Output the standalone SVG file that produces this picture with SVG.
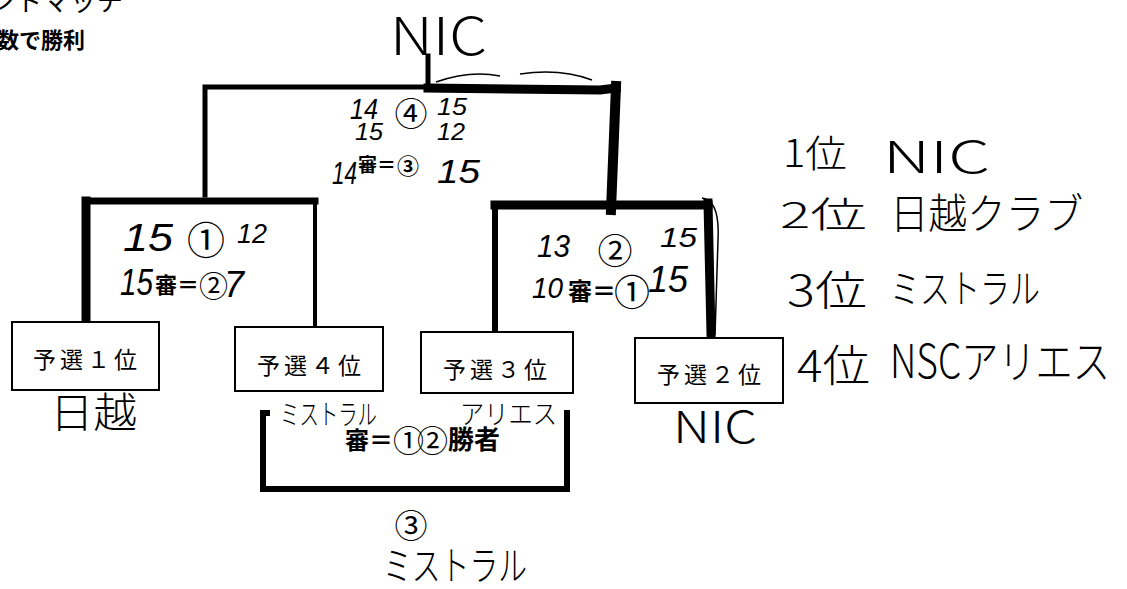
<svg xmlns="http://www.w3.org/2000/svg" width="1127" height="589" viewBox="0 0 1127 589">
<style>
  .ln { stroke:#000; fill:none; stroke-linecap:square; stroke-linejoin:miter; }
  .thin { stroke:#000; fill:none; stroke-width:1.5; }
  .box { fill:#fff; stroke:#000; stroke-width:2; }
  .print { font-family:"Noto Sans CJK JP","Noto Sans",sans-serif; fill:#000; }
  .circ { font-family:"Noto Sans CJK JP","Noto Sans",sans-serif; text-anchor:middle; fill:#000; }
  .boxt { font-family:"Noto Sans CJK JP","Noto Sans",sans-serif; font-size:23px; letter-spacing:4px; text-anchor:middle; fill:#000; }
  .hand { font-family:"Noto Sans CJK JP","Noto Sans",sans-serif; font-weight:300; fill:#000; }
  .num { font-family:"Liberation Sans","Noto Sans",sans-serif; font-style:italic; font-weight:normal; fill:#000; }
</style>
<rect width="1127" height="589" fill="#fff"/>

<g id="header">
  <text class="print" x="-11" y="11" font-size="26" letter-spacing="1">ントマッチ</text>
  <text class="print" x="-3" y="48" font-size="22" font-weight="bold">数で勝利</text>
</g>

<g id="connectors">
  <!-- final bracket -->
  <path class="ln" d="M428,56 V88" stroke-width="5"/>
  <path class="ln" d="M205,195 V87 H428" stroke-width="5"/>
  <path class="ln" d="M428,88 L600,90 L616,88" stroke-width="9"/>
  <path class="ln" d="M616,86 L611,210" stroke-width="10"/>
  <path class="thin" d="M436,82 Q470,70 500,76 M520,74 Q560,68 592,80"/>
  <!-- left semifinal -->
  <path class="ln" d="M86,320 V201" stroke-width="9"/>
  <path class="ln" d="M86,201 H315" stroke-width="7"/>
  <path class="ln" d="M315,201 V326" stroke-width="4"/>
  <!-- right semifinal -->
  <path class="ln" d="M495,330 V205" stroke-width="6"/>
  <path class="ln" d="M495,205 H708" stroke-width="9"/>
  <path class="ln" d="M708,203 L711,334" stroke-width="9"/>
  <path class="thin" d="M702,198 Q720,200 718,240 L715,335"/>
  <!-- 3rd place bracket -->
  <path class="ln" d="M267,413 H263 V489 H567 V413" stroke-width="6"/>
</g>

<g id="node-seed1">
  <rect class="box" x="12" y="322" width="147" height="68"/>
  <text class="boxt" x="87" y="368">予選１位</text>
</g>
<g id="node-seed4">
  <rect class="box" x="235" y="327" width="148" height="64"/>
  <text class="boxt" x="311" y="374">予選４位</text>
</g>
<g id="node-seed3">
  <rect class="box" x="421" y="332" width="152" height="61"/>
  <text class="boxt" x="497" y="378">予選３位</text>
</g>
<g id="node-seed2">
  <rect class="box" x="635" y="338" width="148" height="65"/>
  <text class="boxt" x="711" y="383">予選２位</text>
</g>

<g id="final-labels">
  <text class="hand" x="390" y="55" font-size="52" textLength="97" lengthAdjust="spacingAndGlyphs">NIC</text>
  <text class="num" x="350" y="119" font-size="30" textLength="28" lengthAdjust="spacingAndGlyphs">14</text>
  <text class="circ" x="411" y="126" font-size="33">④</text>
  <text class="num" x="437" y="115" font-size="24" textLength="30" lengthAdjust="spacingAndGlyphs">15</text>
  <text class="num" x="355" y="140" font-size="24" textLength="28" lengthAdjust="spacingAndGlyphs">15</text>
  <text class="num" x="437" y="140" font-size="24" textLength="28" lengthAdjust="spacingAndGlyphs">12</text>
  <text class="num" x="332" y="184" font-size="32" textLength="25" lengthAdjust="spacingAndGlyphs">14</text>
  <text class="print" x="358" y="172" font-size="19" font-weight="bold">審＝<tspan font-size="22" dx="1" dy="2">③</tspan></text>
  <text class="num" x="437" y="183" font-size="34" textLength="43" lengthAdjust="spacingAndGlyphs">15</text>
</g>

<g id="semi1-labels">
  <text class="num" x="123" y="251" font-size="38" textLength="50" lengthAdjust="spacingAndGlyphs">15</text>
  <text class="circ" x="206" y="254" font-size="38">①</text>
  <text class="num" x="237" y="243" font-size="28" textLength="30" lengthAdjust="spacingAndGlyphs">12</text>
  <text class="num" x="120" y="295" font-size="36" textLength="33" lengthAdjust="spacingAndGlyphs">15</text>
  <text class="print" x="155" y="293" font-size="22" font-weight="bold">審＝<tspan font-size="29" font-weight="normal" dy="4">②</tspan><tspan class="num" font-size="36" dx="-4">7</tspan></text>
</g>

<g id="semi2-labels">
  <text class="num" x="537" y="257" font-size="32" textLength="33" lengthAdjust="spacingAndGlyphs">13</text>
  <text class="circ" x="615" y="264" font-size="35">②</text>
  <text class="num" x="660" y="247" font-size="28" textLength="37" lengthAdjust="spacingAndGlyphs">15</text>
  <text class="num" x="532" y="298" font-size="30" textLength="31" lengthAdjust="spacingAndGlyphs">10</text>
  <text class="print" x="568" y="300" font-size="24" font-weight="bold">審＝<tspan font-size="36" font-weight="normal" dx="-2" dy="6">①</tspan></text>
  <text class="num" x="648" y="292" font-size="36" textLength="40" lengthAdjust="spacingAndGlyphs">15</text>
</g>

<g id="team-labels">
  <text class="hand" x="50" y="428" font-size="42" textLength="87" lengthAdjust="spacingAndGlyphs">日越</text>
  <text class="hand" x="280" y="425" font-size="28" textLength="97" lengthAdjust="spacingAndGlyphs">ミストラル</text>
  <text class="hand" x="460" y="424" font-size="27" textLength="97" lengthAdjust="spacingAndGlyphs">アリエス</text>
  <text class="hand" x="673" y="443" font-size="44" textLength="84" lengthAdjust="spacingAndGlyphs">NIC</text>
</g>

<g id="third-place-labels">
  <text class="print" x="345" y="449" font-size="24" font-weight="bold">審＝<tspan font-size="31" font-weight="normal" letter-spacing="-7" dy="3">①②</tspan><tspan font-size="26" dx="7" dy="-3">勝者</tspan></text>
  <text class="circ" x="411" y="538" font-size="33">③</text>
  <text class="hand" x="383" y="580" font-size="40" textLength="144" lengthAdjust="spacingAndGlyphs">ミストラル</text>
</g>

<g id="ranking">
  <text class="hand" x="783" y="167" font-size="38" textLength="64" lengthAdjust="spacingAndGlyphs">1位</text>
  <text class="hand" x="883" y="173" font-size="44" textLength="107" lengthAdjust="spacingAndGlyphs">NIC</text>
  <text class="hand" x="780" y="228" font-size="36" textLength="87" lengthAdjust="spacingAndGlyphs">2位</text>
  <text class="hand" x="890" y="229" font-size="42" textLength="193" lengthAdjust="spacingAndGlyphs">日越クラブ</text>
  <text class="hand" x="787" y="306" font-size="42" textLength="80" lengthAdjust="spacingAndGlyphs">3位</text>
  <text class="hand" x="890" y="303" font-size="40" textLength="150" lengthAdjust="spacingAndGlyphs">ミストラル</text>
  <text class="hand" x="797" y="382" font-size="44" textLength="73" lengthAdjust="spacingAndGlyphs">4位</text>
  <text class="hand" x="890" y="378" font-size="46" textLength="220" lengthAdjust="spacingAndGlyphs">NSCアリエス</text>
</g>
</svg>
